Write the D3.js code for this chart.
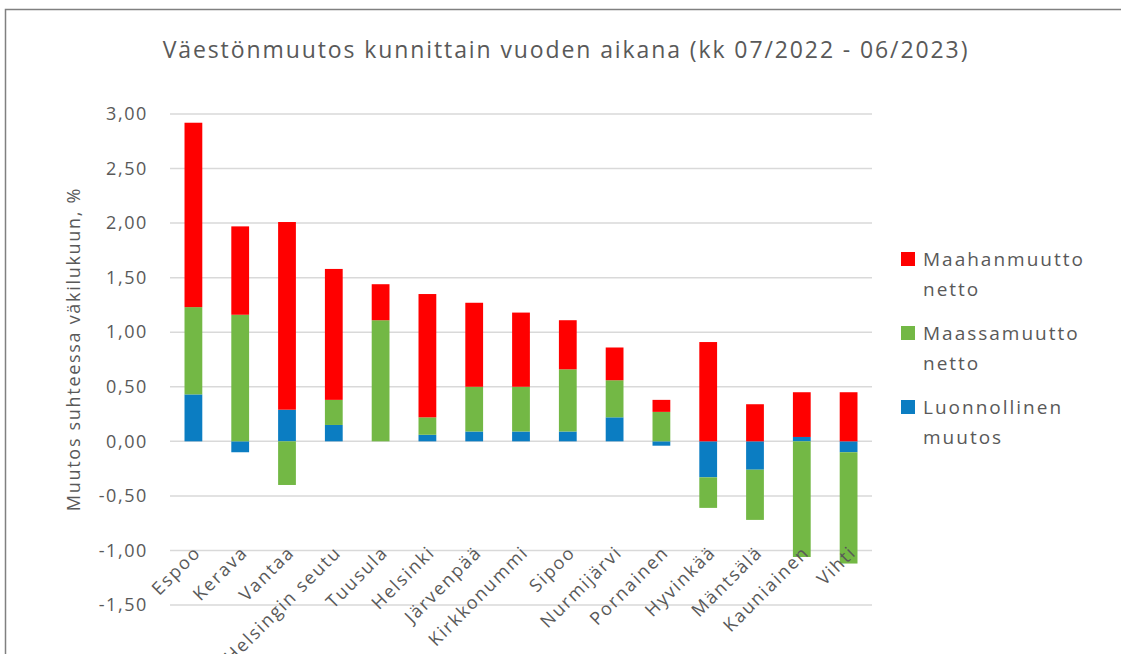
<!DOCTYPE html>
<html lang="fi">
<head>
<meta charset="utf-8">
<title>Väestönmuutos kunnittain</title>
<script src="https://d3js.org/d3.v7.min.js"></script>
<style>
  body { margin: 0; background: #fff; }
  text { font-family: "Open Sans", sans-serif; fill: #595959; }
  .grid line { stroke: #d9d9d9; stroke-width: 1.5; }
</style>
</head>
<body>
<script>
// data (percent of population)
var kunnat = ["Espoo", "Kerava", "Vantaa", "Helsingin seutu", "Tuusula", "Helsinki", "Järvenpää",
  "Kirkkonummi", "Sipoo", "Nurmijärvi", "Pornainen", "Hyvinkää", "Mäntsälä", "Kauniainen", "Vihti"];
var luonnollinen = [0.43, -0.10, 0.29, 0.15, 0.00, 0.06, 0.09, 0.09, 0.09, 0.22, -0.04, -0.33, -0.26, 0.04, -0.10];
var maassamuutto = [0.80, 1.16, -0.40, 0.23, 1.11, 0.16, 0.41, 0.41, 0.57, 0.34, 0.27, -0.28, -0.46, -1.06, -1.02];
var maahanmuutto = [1.69, 0.81, 1.72, 1.20, 0.33, 1.13, 0.77, 0.68, 0.45, 0.30, 0.11, 0.91, 0.34, 0.41, 0.45];
var sarjat = ["Luonnollinen muutos", "Maassamuutto netto", "Maahanmuutto netto"];
var varit = ["#0b7dc2", "#73b845", "#ff0000"];
var yTicks = [-1.5, -1, -0.5, 0, 0.5, 1, 1.5, 2, 2.5, 3];
var otsikko = "Väestönmuutos kunnittain vuoden aikana (kk 07/2022 - 06/2023)";
var yOtsikko = "Muutos suhteessa väkilukuun, %";

var width = 1121, height = 654;

var svg = d3.select("body").append("svg")
  .attr("width", width)
  .attr("height", height);

// chart border (cut off at right and bottom)
svg.append("rect")
  .attr("x", 5.5).attr("y", 9.5)
  .attr("width", width + 20).attr("height", height + 20)
  .attr("fill", "none")
  .attr("stroke", "#808080")
  .attr("stroke-width", 1.5);

var x = d3.scaleBand()
  .domain(kunnat)
  .range([170, 872])
  .paddingInner(0.62)
  .paddingOuter(0.31);

var y = d3.scaleLinear()
  .domain([-1.5, 3])
  .range([605, 114]);

var rows = kunnat.map(function(k, i) {
  return { kunta: k, l: luonnollinen[i], m: maassamuutto[i], h: maahanmuutto[i] };
});

var stack = d3.stack()
  .keys(["l", "m", "h"])
  .offset(d3.stackOffsetDiverging);
var series = stack(rows);

// gridlines
svg.append("g")
  .attr("class", "grid")
  .selectAll("line")
  .data(yTicks)
  .enter().append("line")
  .attr("x1", 170).attr("x2", 872)
  .attr("y1", function(d) { return y(d); })
  .attr("y2", function(d) { return y(d); });

// y axis labels
var fmt = function(d) { return d3.format(".2f")(d).replace(".", ",").replace("−", "-"); };
svg.append("g")
  .call(d3.axisLeft(y).tickValues(yTicks).tickFormat(fmt).tickSize(0).tickPadding(22))
  .attr("transform", "translate(170,0)")
  .call(function(g) { g.select(".domain").remove(); })
  .selectAll("text")
  .style("font-family", "'Open Sans', sans-serif")
  .style("font-size", "18px")
  .style("letter-spacing", "1.6px")
  .attr("fill", "#595959");

// bars
svg.append("g")
  .selectAll("g")
  .data(series)
  .enter().append("g")
  .attr("fill", function(d, i) { return varit[i]; })
  .selectAll("rect")
  .data(function(d) { return d; })
  .enter().append("rect")
  .attr("x", function(d) { return x(d.data.kunta); })
  .attr("width", x.bandwidth())
  .attr("y", function(d) { return y(Math.max(d[0], d[1])); })
  .attr("height", function(d) { return Math.abs(y(d[0]) - y(d[1])); });

// category labels
svg.append("g")
  .selectAll("text")
  .data(kunnat)
  .enter().append("text")
  .attr("transform", function(d) {
    return "translate(" + (x(d) + x.bandwidth() / 2 - 1) + ",544) rotate(-45)";
  })
  .attr("text-anchor", "end")
  .attr("dy", "0.75em")
  .style("font-size", "18px")
  .style("letter-spacing", "1.8px")
  .text(function(d) { return d; });

// title
svg.append("text")
  .attr("x", 566)
  .attr("y", 58)
  .attr("text-anchor", "middle")
  .style("font-size", "23px")
  .style("letter-spacing", "1.9px")
  .text(otsikko);

// y title
svg.append("text")
  .attr("transform", "translate(80,349) rotate(-90)")
  .attr("text-anchor", "middle")
  .style("font-size", "18px")
  .style("letter-spacing", "1.7px")
  .text(yOtsikko);

// legend (top entry = last series)
var legendRows = [
  { nimi: sarjat[2], vari: varit[2] },
  { nimi: sarjat[1], vari: varit[1] },
  { nimi: sarjat[0], vari: varit[0] }
];
var leg = svg.append("g")
  .selectAll("g")
  .data(legendRows)
  .enter().append("g")
  .attr("transform", function(d, i) { return "translate(901," + (252 + i * 74) + ")"; });

leg.append("rect")
  .attr("width", 14).attr("height", 14)
  .attr("fill", function(d) { return d.vari; });

leg.append("text")
  .attr("x", 22)
  .attr("y", 14)
  .style("font-size", "19px")
  .style("letter-spacing", "2px")
  .selectAll("tspan")
  .data(function(d) { return d.nimi.split(" "); })
  .enter().append("tspan")
  .attr("x", 22)
  .attr("dy", function(d, i) { return i ? 30 : 0; })
  .text(function(d) { return d; });
</script>
</body>
</html>
